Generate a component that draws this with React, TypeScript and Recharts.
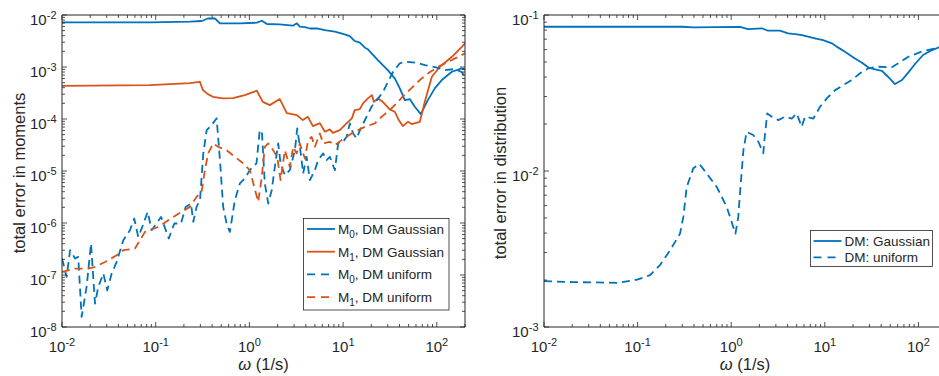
import React from 'react'
import { LineChart, Line, XAxis, YAxis } from 'recharts'

const BLUE = '#0072BD'
const ORANGE = '#D95319'
const INK = '#262626'
const FONT = '"Liberation Sans", Arial, Helvetica, sans-serif'

// ---- left panel: total error in moments ----
const m0GaussW = [0.01, 0.0869, 0.232, 0.311, 0.36, 0.429, 0.484, 0.793, 1.2, 1.36, 1.54, 2.11, 2.91, 3.21, 3.46, 3.91, 4.42, 5.25, 6.39, 8.17, 10.4, 11.8, 13.3, 15.1, 17.1, 18.4, 23.5, 30.0, 35.6, 40.3, 45.6, 51.5, 58.2, 67.5, 80.2, 95.2, 113, 145, 185, 200]
const m0GaussE = [7.24e-3, 7.24e-3, 7.43e-3, 7.66e-3, 8.56e-3, 8.64e-3, 6.92e-3, 6.92e-3, 7.11e-3, 7.76e-3, 6.71e-3, 6.62e-3, 6.22e-3, 6.92e-3, 5.95e-3, 5.87e-3, 5.5e-3, 5.55e-3, 5.14e-3, 4.77e-3, 4.25e-3, 3.94e-3, 3.16e-3, 2.93e-3, 2.35e-3, 2.19e-3, 1.36e-3, 8.73e-4, 6.05e-4, 3.88e-4, 2.31e-4, 2.42e-4, 1.72e-4, 1.24e-4, 2.31e-4, 3.88e-4, 5.61e-4, 8.11e-4, 9.42e-4, 9.01e-4]

const m1GaussW = [0.01, 0.0869, 0.232, 0.296, 0.319, 0.36, 0.408, 0.521, 0.667, 0.895, 1.2, 1.39, 1.65, 2.11, 2.51, 3.21, 3.72, 4.21, 4.76, 5.65, 6.39, 7.22, 7.78, 9.23, 10.4, 12.4, 13.3, 15.1, 16.3, 18.4, 20.3, 21.3, 23.5, 26.5, 31.5, 35.6, 39.3, 43.4, 49.1, 54.1, 65.9, 74.5, 88.5, 108, 145, 185, 200]
const m1GaussE = [4.35e-4, 4.5e-4, 4.91e-4, 5.2e-4, 3.6e-4, 3.01e-4, 2.67e-4, 2.49e-4, 2.52e-4, 2.88e-4, 3.49e-4, 2.14e-4, 1.85e-4, 2.42e-4, 1.3e-4, 1.19e-4, 9.53e-5, 1.1e-4, 7.3e-5, 8.34e-5, 5.67e-5, 6.31e-5, 5.42e-5, 6.11e-5, 7.63e-5, 1.03e-4, 1.48e-4, 1.55e-4, 2.0e-4, 2.49e-4, 2.88e-4, 2.14e-4, 2.49e-4, 2.14e-4, 1.53e-4, 1.38e-4, 9.53e-5, 7.3e-5, 8.83e-5, 7.98e-5, 8.83e-5, 2.14e-4, 6.49e-4, 1.01e-3, 1.57e-3, 2.45e-3, 2.85e-3]

const m0UnifW = [0.01, 0.0112, 0.0122, 0.0138, 0.0149, 0.0162, 0.0183, 0.0204, 0.0225, 0.0244, 0.0276, 0.0304, 0.0339, 0.0383, 0.0451, 0.0531, 0.059, 0.0651, 0.0719, 0.0821, 0.0905, 0.102, 0.114, 0.138, 0.158, 0.186, 0.209, 0.238, 0.252, 0.273, 0.297, 0.322, 0.35, 0.395, 0.447, 0.485, 0.525, 0.571, 0.619, 0.7, 0.792, 0.895, 1.01, 1.19, 1.29, 1.36, 1.46, 1.59, 1.73, 1.87, 2.03, 2.15, 2.39, 2.7, 3.06, 3.24, 3.46, 3.75, 4.08, 4.42, 5.0, 5.42, 6.13, 6.66, 7.22, 8.17, 8.86, 10.0, 10.9, 11.8, 12.8, 13.9, 15.7, 17.8, 20.1, 23.7, 26.7, 30.2, 34.2, 40.3, 47.5, 60.7, 74.5, 95.2, 122, 156, 184, 200]
const m0UnifE = [2.07e-7, 9.17e-8, 3.0e-7, 2.07e-7, 2.23e-7, 1.56e-8, 5.89e-8, 4.03e-7, 2.82e-8, 5.89e-8, 1.07e-7, 5.09e-8, 1.07e-7, 1.78e-7, 4.67e-7, 7.27e-7, 1.22e-6, 5.4e-7, 8.41e-7, 1.64e-6, 7.27e-7, 9.78e-7, 1.31e-6, 5.03e-7, 9.78e-7, 9.78e-7, 2.04e-6, 2.37e-6, 1.05e-6, 2.04e-6, 2.75e-6, 2.18e-5, 6.11e-5, 7.63e-5, 1.03e-4, 1.62e-5, 2.04e-6, 9.78e-7, 6.74e-7, 2.75e-6, 5.76e-6, 7.19e-6, 1.04e-5, 1.4e-5, 6.11e-5, 5.67e-5, 5.76e-6, 2.37e-6, 4.28e-6, 1.2e-5, 3.39e-5, 1.4e-5, 8.32e-6, 1.04e-5, 2.52e-5, 6.59e-5, 2.92e-5, 8.97e-6, 1.87e-5, 6.67e-6, 1.04e-5, 1.62e-5, 2.18e-5, 1.62e-5, 1.87e-5, 1.04e-5, 3.39e-5, 3.64e-5, 4.54e-5, 8.23e-5, 5.28e-5, 4.23e-5, 7.08e-5, 1.1e-4, 1.72e-4, 2.49e-4, 3.34e-4, 5.2e-4, 8.1e-4, 1.18e-3, 1.26e-3, 1.21e-3, 1.09e-3, 9.98e-4, 8.73e-4, 9.13e-4, 8.0e-4, 6.49e-4]

const m1UnifW = [0.01, 0.0138, 0.0191, 0.0225, 0.0288, 0.0383, 0.0451, 0.0601, 0.0768, 0.107, 0.136, 0.189, 0.232, 0.273, 0.309, 0.335, 0.363, 0.411, 0.465, 0.571, 0.7, 0.859, 1.01, 1.15, 1.24, 1.35, 1.46, 1.59, 1.79, 1.98, 2.15, 2.39, 2.7, 2.93, 3.19, 3.46, 3.91, 4.24, 4.61, 5.0, 5.65, 6.13, 7.22, 8.17, 9.63, 12.3, 14.5, 17.1, 21.8, 25.7, 31.5, 37.2, 43.7, 53.7, 65.9, 80.8, 103, 132, 169, 200]
const m1UnifE = [1.14e-7, 1.33e-7, 1.33e-7, 1.43e-7, 1.78e-7, 2.4e-7, 3.0e-7, 3.23e-7, 6.74e-7, 8.41e-7, 1.13e-6, 1.64e-6, 2.04e-6, 3.18e-6, 3.97e-6, 1.04e-5, 2.18e-5, 3.39e-5, 2.92e-5, 2.52e-5, 1.87e-5, 1.4e-5, 1.04e-5, 4.28e-6, 2.55e-6, 7.19e-6, 2.92e-5, 3.39e-5, 2.52e-5, 1.87e-5, 6.67e-6, 2.52e-5, 1.2e-5, 2.92e-5, 2.18e-5, 3.39e-5, 1.74e-5, 3.92e-5, 4.54e-5, 2.92e-5, 5.28e-5, 3.39e-5, 3.64e-5, 3.15e-5, 3.92e-5, 5.28e-5, 6.11e-5, 7.08e-5, 8.23e-5, 1.1e-4, 1.48e-4, 2.0e-4, 2.76e-4, 3.93e-4, 5.61e-4, 7.55e-4, 1.01e-3, 1.25e-3, 1.57e-3, 1.83e-3]

// ---- right panel: total error in distribution ----
const distGaussW = [0.01, 0.305, 0.391, 1.24, 1.51, 2.13, 2.47, 3.32, 4.05, 4.81, 5.7, 6.62, 7.85, 9.57, 11.9, 13.8, 16.4, 21.0, 25.0, 29.0, 34.4, 40.8, 47.3, 56.2, 66.8, 77.4, 92.0, 112, 140, 166, 200]
const distGaussE = [0.0841, 0.0841, 0.0832, 0.0839, 0.0813, 0.0822, 0.0793, 0.0793, 0.0763, 0.0755, 0.0744, 0.0726, 0.0709, 0.0691, 0.0658, 0.062, 0.0581, 0.0527, 0.0494, 0.0462, 0.0448, 0.0439, 0.0402, 0.0361, 0.0383, 0.0426, 0.0485, 0.0554, 0.0596, 0.062, 0.0637]

const distUnifW = [0.01, 0.0204, 0.0603, 0.0987, 0.136, 0.173, 0.222, 0.284, 0.308, 0.335, 0.394, 0.456, 0.547, 0.7, 0.895, 1.11, 1.19, 1.24, 1.35, 1.46, 1.72, 1.95, 2.2, 2.3, 2.43, 2.71, 3.19, 3.76, 4.43, 5.01, 5.66, 6.14, 7.54, 8.89, 10.5, 12.9, 15.8, 19.4, 23.8, 29.2, 37.3, 51.9, 61.0, 78.0, 108, 150, 200]
const distUnifE = [1.97e-3, 1.94e-3, 1.92e-3, 2.01e-3, 2.15e-3, 2.49e-3, 3.1e-3, 3.97e-3, 5.08e-3, 7.91e-3, 1.04e-2, 1.11e-2, 9.64e-3, 7.91e-3, 5.89e-3, 3.97e-3, 5.08e-3, 7.18e-3, 1.36e-2, 1.78e-2, 1.7e-2, 1.54e-2, 1.3e-2, 1.74e-2, 2.34e-2, 2.23e-2, 2.12e-2, 2.23e-2, 2.17e-2, 2.34e-2, 1.92e-2, 2.23e-2, 2.17e-2, 2.58e-2, 2.92e-2, 3.3e-2, 3.56e-2, 3.83e-2, 4.23e-2, 4.55e-2, 4.66e-2, 4.62e-2, 4.9e-2, 5.4e-2, 5.82e-2, 6.11e-2, 6.37e-2]

const X_DOMAIN: [number, number] = [0.01, 200]
const Y_DOMAIN_LEFT: [number, number] = [1e-8, 1e-2]
const Y_DOMAIN_RIGHT: [number, number] = [1e-3, 1e-1]

const zip = (w: number[], e: number[]) => w.map((x, i) => ({ w: x, e: e[i] }))

function logTicks([lo, hi]: [number, number]) {
  const out: number[] = []
  for (let p = Math.round(Math.log10(lo)); p <= Math.floor(Math.log10(hi)); p++) {
    for (let m = 1; m <= 9; m++) {
      const v = Number((m * Math.pow(10, p)).toPrecision(2))
      if (v >= lo * 0.999 && v <= hi * 1.001) out.push(v)
    }
  }
  return out
}

const isMajor = (v: number) => Math.abs(Math.log10(v) - Math.round(Math.log10(v))) < 1e-6

function Pow({ v, x, y, anchor }: { v: number; x: number; y: number; anchor: 'start' | 'middle' | 'end' }) {
  const p = Math.round(Math.log10(v))
  return (
    <text x={x} y={y} textAnchor={anchor} fill={INK} fontSize={15} fontFamily={FONT}>
      10<tspan dy={-6.5} fontSize={11}>{p}</tspan>
    </text>
  )
}

const MAJ = 5
const MIN = 3

function BottomTick(props: any) {
  const { x, y, payload } = props
  const major = isMajor(payload.value)
  return (
    <g>
      <line x1={x} x2={x} y1={y} y2={y - (major ? MAJ : MIN)} stroke={INK} strokeWidth={0.8} />
      {major && <Pow v={payload.value} x={x} y={y + 25} anchor="middle" />}
    </g>
  )
}

function TopTick(props: any) {
  const { x, y, payload } = props
  const major = isMajor(payload.value)
  return <line x1={x} x2={x} y1={y} y2={y + (major ? MAJ : MIN)} stroke={INK} strokeWidth={0.8} />
}

function LeftTick(props: any) {
  const { x, y, payload } = props
  const major = isMajor(payload.value)
  return (
    <g>
      <line x1={x} x2={x + (major ? MAJ : MIN)} y1={y} y2={y} stroke={INK} strokeWidth={0.8} />
      {major && <Pow v={payload.value} x={x - 5.5} y={y + 10} anchor="end" />}
    </g>
  )
}

function RightTick(props: any) {
  const { x, y, payload } = props
  const major = isMajor(payload.value)
  return <line x1={x} x2={x - (major ? MAJ : MIN)} y1={y} y2={y} stroke={INK} strokeWidth={0.8} />
}

type Series = { data: { w: number; e: number }[]; color: string; dashed?: boolean }

// plot box: top 15, bottom 327 (chart height 376); axes get real sizes so they render
function Panel({ yDomain, series, plotLeft, plotRight }: { yDomain: [number, number]; series: Series[]; plotLeft: number; plotRight: number }) {
  const xTicks = logTicks(X_DOMAIN)
  const yTicks = logTicks(yDomain)
  const common = { type: 'number' as const, scale: 'log' as const, allowDataOverflow: true, interval: 0 as const, tickSize: 0, tickMargin: 0, tickLine: false, axisLine: { stroke: INK, strokeWidth: 1 } }
  return (
    <LineChart width={480} height={376} margin={{ top: 5, right: 480 - plotRight - 10, bottom: 19, left: plotLeft - 40 }}>
      <XAxis xAxisId={0} dataKey="w" domain={X_DOMAIN} ticks={xTicks} height={30} tick={BottomTick} {...common} />
      <XAxis xAxisId="top" orientation="top" dataKey="w" domain={X_DOMAIN} ticks={xTicks} height={10} tick={TopTick} {...common} />
      <YAxis yAxisId={0} domain={yDomain} ticks={yTicks} width={40} tick={LeftTick} {...common} />
      <YAxis yAxisId="right" orientation="right" domain={yDomain} ticks={yTicks} width={10} tick={RightTick} {...common} />
      {series.map((s, i) => (
        <Line
          key={i}
          data={s.data}
          dataKey="e"
          stroke={s.color}
          strokeWidth={1.8}
          strokeDasharray={s.dashed ? '8 5' : undefined}
          strokeLinejoin="round"
          dot={false}
          activeDot={false}
          isAnimationActive={false}
        />
      ))}
    </LineChart>
  )
}

const leftSeries: Series[] = [
  { data: zip(m0GaussW, m0GaussE), color: BLUE },
  { data: zip(m1GaussW, m1GaussE), color: ORANGE },
  { data: zip(m0UnifW, m0UnifE), color: BLUE, dashed: true },
  { data: zip(m1UnifW, m1UnifE), color: ORANGE, dashed: true },
]

const rightSeries: Series[] = [
  { data: zip(distGaussW, distGaussE), color: BLUE },
  { data: zip(distUnifW, distUnifE), color: BLUE, dashed: true },
]

const leftLegend = [
  { sub: '0', label: 'DM Gaussian', color: BLUE, dashed: false },
  { sub: '1', label: 'DM Gaussian', color: ORANGE, dashed: false },
  { sub: '0', label: 'DM uniform', color: BLUE, dashed: true },
  { sub: '1', label: 'DM uniform', color: ORANGE, dashed: true },
]

const rightLegend = [
  { label: 'DM: Gaussian', dashed: false },
  { label: 'DM: uniform', dashed: true },
]

export default function App() {
  return (
    <div style={{ position: 'absolute', left: 0, top: 0, width: 939, height: 376, overflow: 'hidden', background: '#fff' }}>
      <div style={{ position: 'absolute', left: 0, top: 0 }}>
        <Panel yDomain={Y_DOMAIN_LEFT} series={leftSeries} plotLeft={62} plotRight={465} />
      </div>
      <div style={{ position: 'absolute', left: 480, top: 0 }}>
        <Panel yDomain={Y_DOMAIN_RIGHT} series={rightSeries} plotLeft={64} plotRight={466.6} />
      </div>
      <svg width={939} height={376} style={{ position: 'absolute', left: 0, top: 0, pointerEvents: 'none' }} fontFamily={FONT} fill={INK}>
        {/* axis titles */}
        <text x={263.5} y={370} textAnchor="middle" fontSize={16.5}>
          <tspan fontStyle="italic">ω</tspan> (1/s)
        </text>
        <text x={745} y={370} textAnchor="middle" fontSize={16.5}>
          <tspan fontStyle="italic">ω</tspan> (1/s)
        </text>
        <text transform="translate(25,173) rotate(-90)" textAnchor="middle" fontSize={16.5}>total error in moments</text>
        <text transform="translate(506,173) rotate(-90)" textAnchor="middle" fontSize={16.5}>total error in distribution</text>

        {/* left legend */}
        <rect x={303.5} y={218.5} width={145.5} height={91.5} fill="#fff" stroke={INK} strokeWidth={0.8} />
        {leftLegend.map((l, i) => {
          const cy = 229 + i * 22.7
          return (
            <g key={i}>
              <line x1={307} x2={l.dashed ? 329 : 335} y1={cy} y2={cy} stroke={l.color} strokeWidth={1.8} strokeDasharray={l.dashed ? '8 6' : undefined} />
              <text x={338} y={cy + 5} fontSize={13.5}>
                M<tspan dy={4} fontSize={10}>{l.sub}</tspan>
                <tspan dy={-4}>, {l.label}</tspan>
              </text>
            </g>
          )
        })}

        {/* right legend */}
        <rect x={810.5} y={230.5} width={122} height={36} fill="#fff" stroke={INK} strokeWidth={0.8} />
        {rightLegend.map((l, i) => {
          const cy = 241 + i * 16.3
          return (
            <g key={i}>
              <line x1={813.5} x2={l.dashed ? 836 : 841.5} y1={cy} y2={cy} stroke={BLUE} strokeWidth={1.8} strokeDasharray={l.dashed ? '8 6' : undefined} />
              <text x={844.5} y={cy + 5} fontSize={13.5}>{l.label}</text>
            </g>
          )
        })}
      </svg>
    </div>
  )
}
